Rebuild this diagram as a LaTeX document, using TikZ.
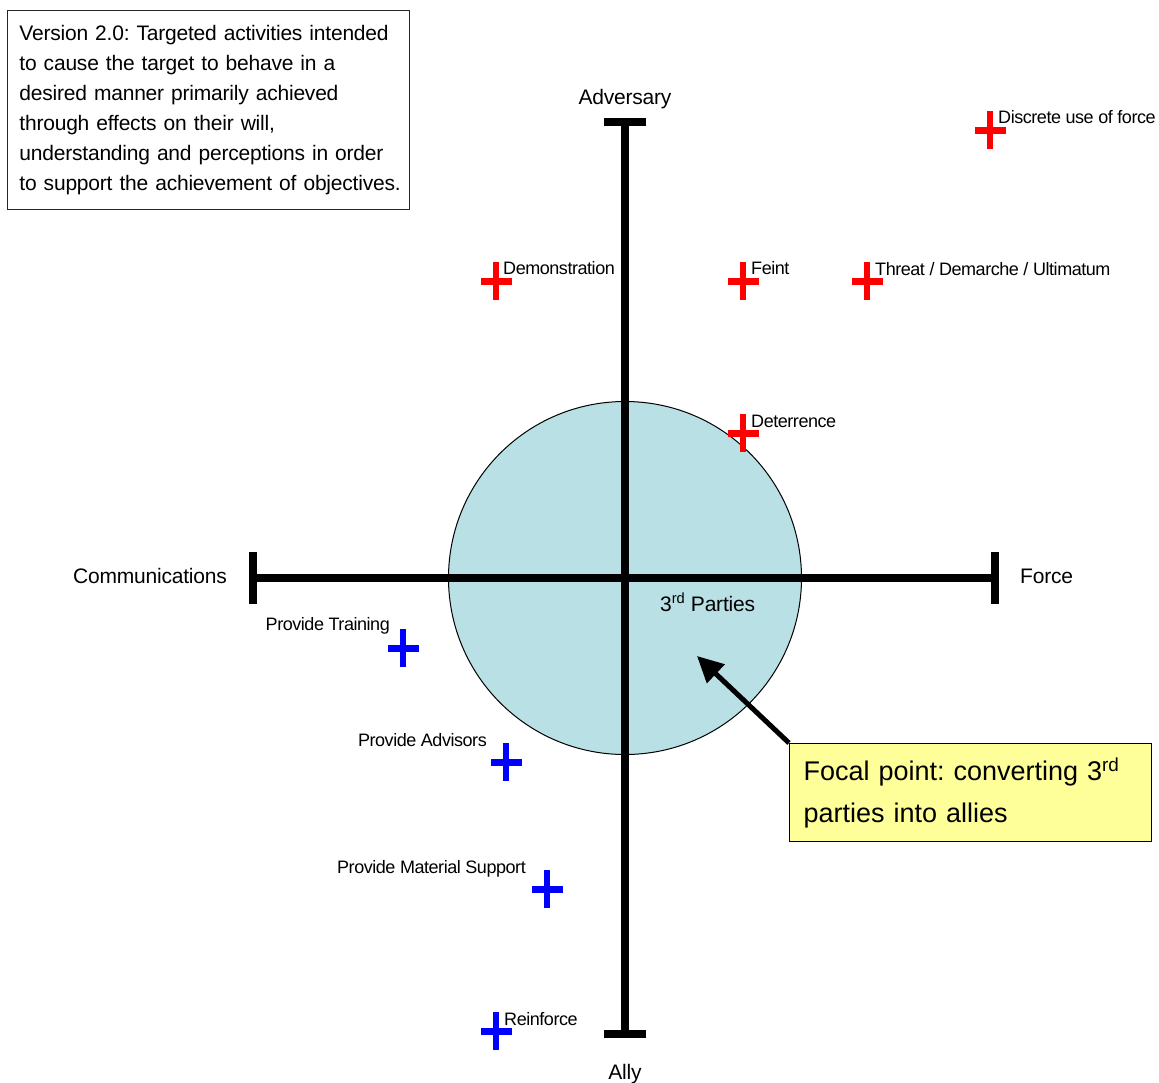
\documentclass[tikz,border=0pt]{standalone}
\usepackage{fontspec}
\setmainfont{Liberation Sans}
\newfontfamily\lblfont{Liberation Sans}[LetterSpace=-2.5]
\newfontfamily\txtfont{Liberation Sans}[LetterSpace=-1]
\usetikzlibrary{arrows.meta}

\definecolor{partyfill}{RGB}{185,224,228}
\definecolor{notefill}{RGB}{255,255,153}
\definecolor{forcered}{RGB}{255,0,0}
\definecolor{allyblue}{RGB}{0,0,255}

\tikzset{
  axisline/.style={line width=7.5pt},
  marklabel/.style={inner sep=0pt, font=\lblfont\fontsize{18}{21}\selectfont},
  axislabel/.style={inner sep=0pt, font=\txtfont\fontsize{21}{25}\selectfont},
  effect/.pic={
    \fill (-15.5,-3.5) rectangle (15.5,3.5);
    \fill (-3.2,-19) rectangle (3.2,19);
  }
}

\begin{document}
\frenchspacing
\begin{tikzpicture}[x=1pt,y=-1pt]
\useasboundingbox (0,0) rectangle (1159,1082);

% axis end points and centre
\coordinate (top) at (625,122);
\coordinate (bot) at (625,1034);
\coordinate (lft) at (253,578);
\coordinate (rgt) at (995,578);
\coordinate (origin) at (625,578);

% third-party zone
\node[circle, draw, line width=1pt, fill=partyfill, minimum size=353pt, inner sep=0pt] (parties) at (origin) {};

% axes with end bars
\draw[axisline] (top) -- (bot);
\draw[axisline] (lft) -- (rgt);
\draw[axisline] ([xshift=-21pt]top) -- ([xshift=21pt]top);
\draw[axisline] ([xshift=-21pt]bot) -- ([xshift=21pt]bot);
\draw[axisline] ([yshift=-26pt]lft) -- ([yshift=26pt]lft);
\draw[axisline] ([yshift=-26pt]rgt) -- ([yshift=26pt]rgt);

% axis labels
\node[axislabel, anchor=base] (adversary) at (625,104) {Adversary};
\node[axislabel, anchor=base] (ally) at (625,1079) {Ally};
\node[axislabel, anchor=base west] (comms) at (73,583) {Communications};
\node[axislabel, anchor=base west] (force) at (1020,583) {Force};
\node[axislabel, anchor=base west] (third) at (660,611) {3\textsuperscript{rd} Parties};

% definition box
\node[draw=black!85, line width=0.9pt, anchor=north west, inner xsep=12pt, inner ysep=0pt,
      text width=378pt, minimum height=199pt, align=left,
      font=\txtfont\fontsize{21}{30}\selectfont] (defn) at (7,10)
  {\mbox{Version 2.0: Targeted activities intended}\\
   \mbox{to cause the target to behave in a}\\
   \mbox{desired manner primarily achieved}\\
   \mbox{through effects on their will,}\\
   \mbox{understanding and perceptions in order}\\
   \mbox{to support the achievement of objectives.}};

% force-side effects
\pic[forcered] at (990,130) {effect};
\node[marklabel, anchor=base west] (discrete) at (998,123) {Discrete use of force};
\pic[forcered] at (496,281) {effect};
\node[marklabel, anchor=base west] (demo) at (503,274) {Demonstration};
\pic[forcered] at (743,281) {effect};
\node[marklabel, anchor=base west] (feint) at (751,274) {Feint};
\pic[forcered] at (867,281) {effect};
\node[marklabel, anchor=base west] (threat) at (875,275) {Threat / Demarche / Ultimatum};
\pic[forcered] at (743,433) {effect};
\node[marklabel, anchor=base west] (deter) at (751,427) {Deterrence};

% ally-side effects
\pic[allyblue] at (403,648) {effect};
\node[marklabel, anchor=base east] (training) at (390,630) {Provide Training};
\pic[allyblue] at (506,762) {effect};
\node[marklabel, anchor=base east] (advisors) at (487,746) {Provide Advisors};
\pic[allyblue] at (547,889) {effect};
\node[marklabel, anchor=base east] (material) at (526,873) {Provide Material Support};
\pic[allyblue] at (496,1031) {effect};
\node[marklabel, anchor=base west] (reinforce) at (504,1025) {Reinforce};

% focal point callout
\node[draw, line width=1pt, fill=notefill, anchor=north west, inner xsep=14pt, inner ysep=0pt,
      text width=334pt, minimum height=98pt, align=left,
      font=\fontsize{27}{42}\selectfont] (focal) at (789,743)
  {Focal point: converting 3\textsuperscript{rd}\\parties into allies};
\coordinate (tip) at (697,656);
\draw[line width=5pt, -{Triangle[length=26pt,width=25pt]}] (focal.north west) -- (tip);

\end{tikzpicture}
\end{document}
